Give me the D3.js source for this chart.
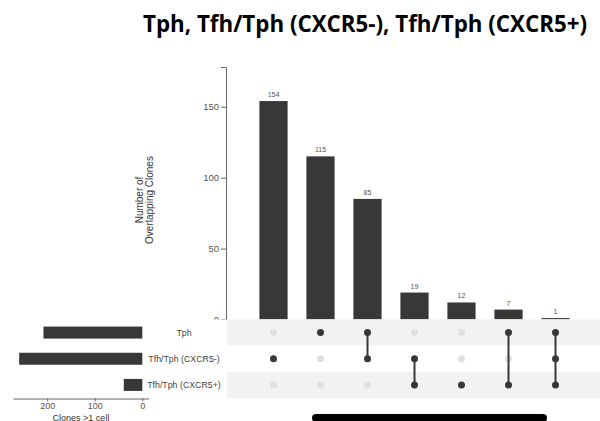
<!DOCTYPE html>
<html>
<head>
<meta charset="utf-8">
<script src="https://cdn.jsdelivr.net/npm/d3@7"></script>
<style>
  body { margin: 0; background: #fff; }
  svg { display: block; font-family: "Liberation Sans", Arial, sans-serif; }
</style>
</head>
<body>
<svg width="600" height="421"></svg>
<script>
var svg = d3.select("svg");

// data
var sets = ["Tph", "Tfh/Tph (CXCR5-)", "Tfh/Tph (CXCR5+)"];
var setSizes = [208, 259, 39];
var intersections = ["i1", "i2", "i3", "i4", "i5", "i6", "i7"];
var intersectionSizes = [154, 115, 85, 19, 12, 7, 1];
var intersectionMembers = [[1], [0], [0, 1], [1, 2], [2], [0, 2], [0, 1, 2]];
var yTicks = [0, 50, 100, 150];
var setTicks = [200, 100, 0];

var dark = "#383838";

// title
svg.append("text")
  .attr("x", 365).attr("y", 32)
  .attr("text-anchor", "middle")
  .attr("font-family", "'Open Sans', sans-serif")
  .attr("font-weight", "bold")
  .attr("font-size", 23)
  .attr("textLength", 444)
  .attr("lengthAdjust", "spacingAndGlyphs")
  .attr("fill", "#000")
  .text("Tph, Tfh/Tph (CXCR5-), Tfh/Tph (CXCR5+)");

// intersection bar chart
var x = d3.scaleBand().domain(intersections).range([250, 579]).paddingInner(0.4).paddingOuter(0.2);
var y = d3.scaleLinear().domain([0, 178]).range([319.5, 67]);

var yAxis = svg.append("g")
  .attr("transform", "translate(226,0)")
  .call(d3.axisLeft(y).tickValues(yTicks).tickSize(5).tickPadding(2));
yAxis.select(".domain").attr("stroke", "#666");
yAxis.selectAll(".tick line").attr("stroke", "#666");
yAxis.selectAll(".tick text").attr("fill", "#555").attr("font-size", 9.5)
  .attr("font-family", "'Liberation Sans', Arial, sans-serif");

svg.append("text")
  .attr("transform", "translate(144,200) rotate(-90)")
  .attr("text-anchor", "middle")
  .attr("font-size", 10)
  .attr("fill", "#333")
  .selectAll("tspan")
  .data(["Number of", "Overlapping Clones"])
  .join("tspan")
  .attr("x", 0)
  .attr("dy", (d, i) => i === 0 ? -1 : 10)
  .text(d => d);

svg.append("g").selectAll("rect")
  .data(intersectionSizes)
  .join("rect")
  .attr("x", (d, i) => x(intersections[i]))
  .attr("y", d => y(d))
  .attr("width", x.bandwidth())
  .attr("height", d => y(0) - y(d))
  .attr("fill", dark);

svg.append("g").selectAll("text")
  .data(intersectionSizes)
  .join("text")
  .attr("x", (d, i) => x(intersections[i]) + x.bandwidth() / 2)
  .attr("y", d => y(d) - 4)
  .attr("text-anchor", "middle")
  .attr("font-size", 7)
  .attr("fill", "#555")
  .text(d => d);

// matrix panel covers the bottom of the plot
svg.append("rect").attr("x", 0).attr("y", 319.5).attr("width", 600).attr("height", 102).attr("fill", "#fff");

var row = d3.scaleBand().domain(sets).range([319.5, 398]);

svg.append("g").selectAll("rect")
  .data(sets)
  .join("rect")
  .attr("x", 227)
  .attr("y", d => row(d))
  .attr("width", 373)
  .attr("height", row.bandwidth())
  .attr("fill", (d, i) => i % 2 === 0 ? "#f2f2f2" : "#fff");

var cy = i => row(sets[i]) + row.bandwidth() / 2;

intersections.forEach(function(key, j) {
  var cx = x(key) + x.bandwidth() / 2;
  var mem = intersectionMembers[j];
  var g = svg.append("g");
  g.selectAll("circle")
    .data(sets)
    .join("circle")
    .attr("cx", cx)
    .attr("cy", (d, i) => cy(i))
    .attr("r", 3.5)
    .attr("fill", (d, i) => mem.indexOf(i) >= 0 ? dark : "#e0e0e0");
  if (mem.length > 1) {
    g.append("line")
      .attr("x1", cx).attr("x2", cx)
      .attr("y1", cy(d3.min(mem))).attr("y2", cy(d3.max(mem)))
      .attr("stroke", dark).attr("stroke-width", 2);
  }
});

// set size bars
var sx = d3.scaleLinear().domain([-13, 272]).range([148.5, 13]);

svg.append("g").selectAll("rect")
  .data(setSizes)
  .join("rect")
  .attr("x", d => sx(d))
  .attr("y", (d, i) => cy(i) - 6)
  .attr("width", d => sx(0) - sx(d))
  .attr("height", 12)
  .attr("fill", dark);

svg.append("g").selectAll("text")
  .data(sets)
  .join("text")
  .attr("x", 184)
  .attr("y", (d, i) => cy(i) + 3)
  .attr("text-anchor", "middle")
  .attr("font-size", 8.8)
  .attr("fill", "#444")
  .text(d => d);

var sAxis = svg.append("g")
  .attr("transform", "translate(0,398.5)")
  .call(d3.axisBottom(sx).tickValues(setTicks).tickSize(3).tickSizeOuter(0).tickPadding(1));
sAxis.select(".domain").attr("stroke", "#666");
sAxis.selectAll(".tick line").attr("stroke", "#666");
sAxis.selectAll(".tick text").attr("fill", "#555").attr("font-size", 9)
  .attr("font-family", "'Liberation Sans', Arial, sans-serif");

svg.append("text")
  .attr("x", 81).attr("y", 420.5)
  .attr("text-anchor", "middle")
  .attr("font-size", 9)
  .attr("fill", "#333")
  .text("Clones >1 cell");

// home indicator bar from the screenshot
svg.append("rect")
  .attr("x", 312).attr("y", 414)
  .attr("width", 235).attr("height", 8)
  .attr("rx", 4)
  .attr("fill", "#000");
</script>
</body>
</html>
